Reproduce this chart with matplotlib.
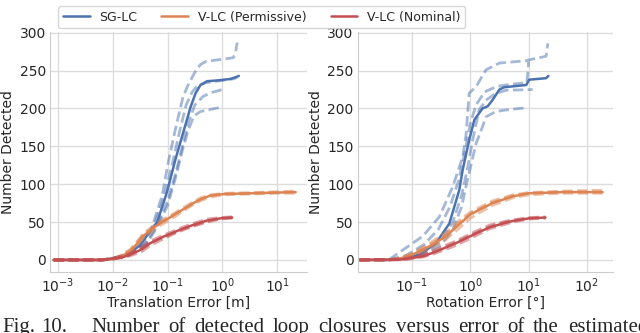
import numpy as np
import matplotlib
matplotlib.use("Agg")
import matplotlib.pyplot as plt
import seaborn as sns

sns.set_style("whitegrid")
plt.rcParams['font.family'] = ['DejaVu Sans']

# colours (seaborn deep)
BLUE = "#4C72B0"
ORANGE = "#DD8452"
RED = "#C44E52"

labels = ["SG-LC", "V-LC (Permissive)", "V-LC (Nominal)"]

# ---------------- translation error panel (log10 of error in m) ----------------
tr_sg_x = [-3.08, -2.2, -2.0, -1.7, -1.5, -1.32, -1.19, -1.01, -0.86, -0.70, -0.58, -0.49, -0.40, -0.28, -0.09, 0.15, 0.27, 0.30]
tr_sg_y = [0, 0, 2, 8, 20, 38, 50, 90, 132, 172, 202, 220, 231, 236, 237, 239, 242, 243]

tr_sg_runs = [
    ([-3.08, -2.2, -2.0, -1.7, -1.45, -1.3, -1.1, -0.98, -0.85, -0.72, -0.62, -0.5, -0.4, -0.3, -0.1, 0.1, 0.2, 0.24, 0.27],
     [0, 0, 2, 8, 22, 40, 85, 132, 175, 215, 232, 248, 258, 262, 264, 266, 267, 273, 287]),
    ([-3.08, -2.2, -2.0, -1.7, -1.45, -1.25, -1.08, -0.92, -0.78, -0.66, -0.55, -0.45, -0.3, 0.0, 0.2, 0.27],
     [0, 0, 2, 8, 25, 45, 80, 125, 170, 205, 222, 230, 234, 237, 239, 241]),
    ([-3.08, -2.2, -2.0, -1.7, -1.4, -1.2, -1.0, -0.85, -0.73, -0.62, -0.5, -0.35, -0.2, 0.0],
     [0, 0, 2, 7, 22, 45, 78, 115, 150, 182, 205, 216, 221, 225]),
    ([-3.08, -2.2, -2.0, -1.7, -1.4, -1.2, -1.0, -0.85, -0.73, -0.62, -0.52, -0.4, -0.2, 0.0],
     [0, 0, 1, 6, 20, 42, 72, 110, 145, 172, 190, 196, 199, 202]),
]

tr_perm_x = [-3.08, -2.2, -2.0, -1.86, -1.68, -1.55, -1.44, -1.19, -0.89, -0.58, -0.40, -0.22, 0.03, 0.52, 1.0, 1.34]
tr_perm_y = [0, 0, 1, 4, 12, 22, 32, 46, 59, 73, 80, 85, 87, 88, 89, 89.5]
tr_perm_runs = [
    (tr_perm_x, [0, 0, 2, 6, 14, 25, 35, 49, 61, 75, 82, 86, 88, 89, 90, 91]),
    (tr_perm_x, [0, 0, 1, 3, 10, 19, 29, 43, 56, 71, 78, 83, 86, 87, 88, 88]),
    (tr_perm_x, [0, 0, 1, 5, 13, 24, 34, 47, 60, 72, 80, 85, 87, 88, 89, 90]),
]

tr_nom_x = [-3.08, -2.2, -2.05, -1.8, -1.62, -1.45, -1.32, -1.07, -0.9, -0.7, -0.5, -0.28, -0.03, 0.18]
tr_nom_y = [0, 0, 1.5, 4, 9, 15, 22, 31, 36, 42, 47, 52, 55, 56]
tr_nom_runs = [
    (tr_nom_x, [0, 0, 2, 5, 11, 18, 25, 33, 38, 44, 49, 54, 56, 57]),
    (tr_nom_x, [0, 0, 1, 3, 7, 12, 19, 28, 34, 40, 45, 50, 54, 55]),
    (tr_nom_x, [0, 0, 1, 4, 10, 16, 23, 30, 35, 41, 46, 51, 55, 56]),
]

# ---------------- rotation error panel (log10 of error in deg) ----------------
rot_sg_x = [-1.9, -1.4, -1.22, -0.87, -0.59, -0.36, -0.19, -0.13, -0.02, 0.07, 0.21, 0.30, 0.38, 0.50, 0.58, 0.96, 1.01, 1.30, 1.34]
rot_sg_y = [0, 0, 1, 7, 22, 48, 92, 119, 158, 185, 200, 203, 211, 225, 228, 231, 238, 240, 243]
rot_sg_runs = [
    ([-1.9, -1.4, -1.16, -0.82, -0.53, -0.3, -0.13, -0.07, -0.02, 0.1, 0.27, 0.5, 0.96, 1.0, 1.3, 1.33],
     [0, 0, 13, 31, 57, 97, 136, 167, 220, 229, 251, 260, 263, 264, 269, 286]),
    ([-1.9, -1.4, -1.1, -0.8, -0.55, -0.35, -0.2, -0.1, 0.0, 0.1, 0.25, 0.45, 0.7, 0.97, 0.99, 1.0],
     [0, 0, 6, 20, 40, 70, 105, 140, 180, 205, 222, 229, 232, 234, 250, 262]),
    ([-1.9, -1.4, -1.1, -0.8, -0.5, -0.3, -0.15, -0.05, 0.04, 0.15, 0.27, 0.44, 0.61, 1.07],
     [0, 0, 3, 10, 25, 50, 85, 120, 158, 198, 211, 220, 224, 225]),
    ([-1.9, -1.4, -1.1, -0.8, -0.5, -0.3, -0.15, -0.05, 0.1, 0.21, 0.27, 0.44, 0.61, 0.96],
     [0, 0, 2, 8, 20, 40, 70, 105, 154, 176, 189, 196, 198, 201]),
]

rot_perm_x = [-1.9, -1.4, -1.2, -0.99, -0.70, -0.42, -0.19, 0.0, 0.15, 0.38, 0.73, 1.01, 1.58, 2.27]
rot_perm_y = [0, 0, 2, 7, 18, 31, 47, 60, 66, 75, 84, 88, 89.5, 89.5]
rot_perm_runs = [
    (rot_perm_x, [0, 0, 3, 9, 22, 36, 52, 63, 69, 78, 86, 89, 91, 92]),
    (rot_perm_x, [0, 0, 1, 5, 15, 27, 42, 55, 62, 72, 82, 86, 88, 88]),
    (rot_perm_x, [0, 0, 2, 8, 20, 33, 49, 61, 67, 76, 85, 88, 90, 90]),
]

rot_nom_x = [-1.9, -1.2, -1.05, -0.8, -0.59, -0.25, 0.10, 0.33, 0.6, 0.73, 1.01, 1.29]
rot_nom_y = [0, 0.5, 2, 5, 11, 22, 35, 43, 49, 51.5, 55, 56]
rot_nom_runs = [
    (rot_nom_x, [0, 1, 3, 7, 14, 25, 38, 46, 51, 53, 56, 57]),
    (rot_nom_x, [0, 0, 1, 4, 9, 19, 32, 41, 47, 50, 54, 55]),
    (rot_nom_x, [0, 0.5, 2, 6, 12, 23, 36, 44, 50, 52, 55, 56]),
]

# caption line below the figure (justified in the paper, cut by the page edge)
caption_head = ["Fig.", "10."]
caption_words = ["Number", "of", "detected", "loop", "closures",
                 "versus", "error", "of", "the", "estimated"]


def draw(ax, groups):
    handles = []
    for (mx, my, runs), color, lab in zip(groups, [BLUE, ORANGE, RED], labels):
        for rx, ry in runs:
            ax.plot(10 ** np.array(rx), ry, '--', color=color, alpha=0.5, lw=2.0)
        h, = ax.plot(10 ** np.array(mx), my, '-', color=color, lw=1.8, label=lab)
        handles.append(h)
    return handles


fig = plt.figure(figsize=(6.4, 3.33), dpi=100)
ax1 = fig.add_axes([0.078, 0.183, 0.402, 0.721])
ax2 = fig.add_axes([0.559, 0.183, 0.399, 0.721])

hs = draw(ax1, [(tr_sg_x, tr_sg_y, tr_sg_runs),
                (tr_perm_x, tr_perm_y, tr_perm_runs),
                (tr_nom_x, tr_nom_y, tr_nom_runs)])
draw(ax2, [(rot_sg_x, rot_sg_y, rot_sg_runs),
           (rot_perm_x, rot_perm_y, rot_perm_runs),
           (rot_nom_x, rot_nom_y, rot_nom_runs)])

for ax, xl, lim in [(ax1, "Translation Error [m]", (10 ** -3.15, 10 ** 1.55)),
                    (ax2, "Rotation Error [°]", (10 ** -1.93, 10 ** 2.45))]:
    ax.set_xscale('log')
    ax.set_xlim(*lim)
    ax.set_ylim(-16, 301)
    ax.set_yticks([0, 50, 100, 150, 200, 250, 300])
    ax.set_xlabel(xl, fontsize=10, labelpad=1)
    ax.set_ylabel("Number Detected", fontsize=10, labelpad=3)
    ax.tick_params(labelsize=10, pad=3, length=0)
    ax.minorticks_off()
    ax.grid(True, color="#dddddd", lw=1.0)
    for s in ["top", "right"]:
        ax.spines[s].set_visible(False)
    for s in ["left", "bottom"]:
        ax.spines[s].set_color("#cccccc")

ax2.set_xticks([0.1, 1, 10, 100])
ax1.set_xticks([1e-3, 1e-2, 1e-1, 1, 10])

fig.legend(handles=hs, loc='upper center', bbox_to_anchor=(0.409, 1.0), ncol=3,
           fontsize=9, frameon=True, handlelength=2.15, columnspacing=1.9,
           borderpad=0.35, handletextpad=0.8)

# caption: measure the words, then spread them like justified text
W = 640.0
cap_kw = dict(family="Liberation Serif", fontsize=15, va='top', ha='left')
fig.canvas.draw()
r = fig.canvas.get_renderer()
x = 2.0
for w in caption_head:
    t = fig.text(x / W, 0.045, w, **cap_kw)
    x += t.get_window_extent(r).width + 6
texts = [fig.text(0, 0.045, w, **cap_kw) for w in caption_words]
widths = [t.get_window_extent(r).width for t in texts]
start, end = 91.0, 648.0
gap = (end - start - sum(widths)) / (len(texts) - 1)
x = start
for t, wd in zip(texts, widths):
    t.set_x(x / W)
    x += wd + gap

fig.savefig("out.png", dpi=100)
